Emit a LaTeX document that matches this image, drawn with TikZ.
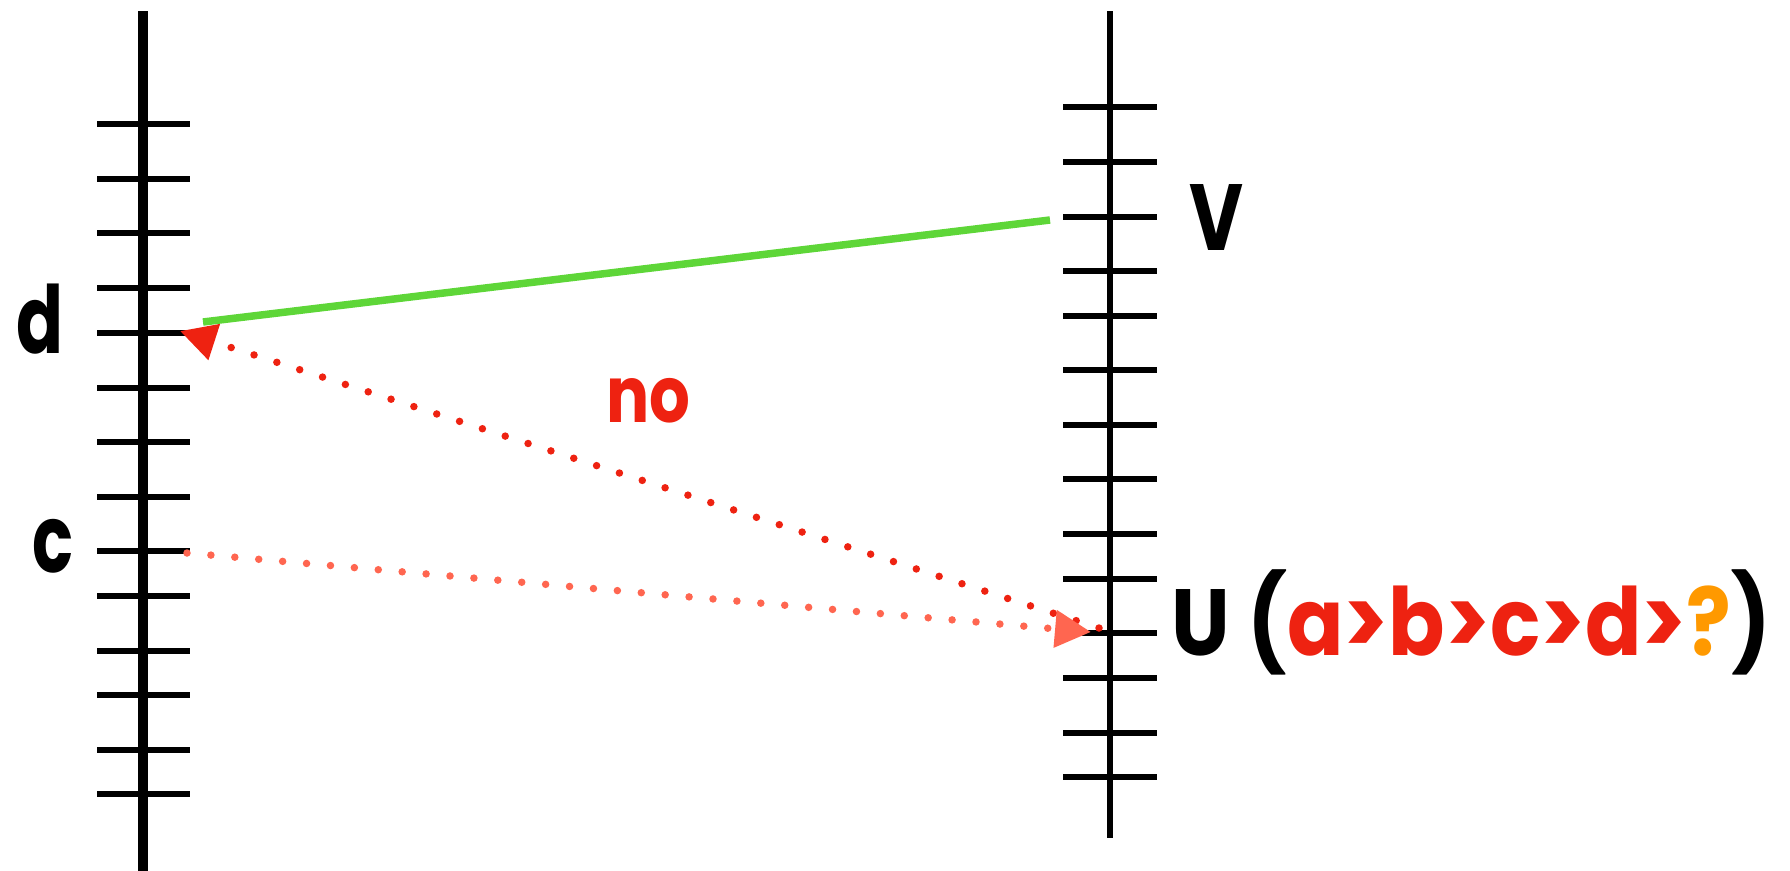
\documentclass[tikz,border=0pt]{standalone}
\usepackage{graphicx}
\usepackage{fontspec}
\setmainfont{Poppins}
\usetikzlibrary{arrows.meta}
\definecolor{myred}{HTML}{EE2211}
\definecolor{mysalmon}{HTML}{FF6650}
\definecolor{mygreen}{HTML}{5ED638}
\definecolor{myorange}{HTML}{FF9900}
\newcommand{\squeezeto}[2]{\resizebox{#1}{\height}{#2}}
\begin{document}
\begin{tikzpicture}[x=1pt,y=-1pt,
  axisL/.style={line width=10pt},
  axisR/.style={line width=5.5pt},
  tickmark/.style={line width=5.5pt},
  lbl/.style={font=\fontsize{94}{100}\selectfont\bfseries, anchor=base, inner sep=0pt},
  dotline/.style={line width=7.5pt, line cap=round, dash pattern=on 0pt off 24pt},
  tipred/.style={-{Triangle[length=36pt,width=36pt]}}
]
\useasboundingbox (0,0) rectangle (1790,870);
% left axis
\draw[axisL] (143,11) -- (143,875);
\foreach \y in {124,179,233,288,333,388,442,497,551,596,651,695,750,794}
  \draw[tickmark] (97,\y) -- (190,\y);
% right axis
\draw[axisR] (1110,11) -- (1110,838);
\foreach \y in {107,162,217,271,316,370,425,479,534,579,633,678,733,777}
  \draw[tickmark] (1063,\y) -- (1157,\y);
% labels
\node[lbl] (d) at (40,353) {\squeezeto{47pt}{d}};
\node[lbl] (c) at (53,572) {\squeezeto{41pt}{c}};
\node[lbl] (V) at (1216,250) {\squeezeto{54pt}{V}};
\node[lbl, text=myred, font=\fontsize{78}{84}\selectfont\bfseries] (no) at (648,422) {\squeezeto{84pt}{no}};
\node[lbl, anchor=base west] (U) at (1171,655) {\squeezeto{600pt}{U (\textcolor{myred}{a>b>c>d>}\textcolor{myorange}{?})}};
% connector endpoints
\coordinate (gA) at (203,322);
\coordinate (gB) at (1050,220);
\coordinate (rS) at (1099,628);
\coordinate (rT) at (180,331);
\coordinate (sS) at (187,553);
\coordinate (sT) at (1091,632);
\draw[mygreen, line width=7.5pt] (gA) -- (gB);
\draw[dotline, myred, tipred] (rS) -- (rT);
\draw[dotline, mysalmon, tipred] (sS) -- (sT);
\end{tikzpicture}
\end{document}
